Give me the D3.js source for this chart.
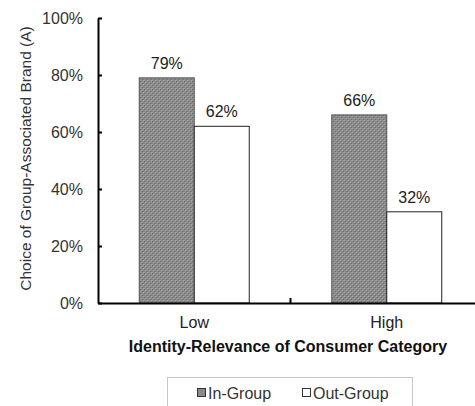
<!DOCTYPE html>
<html><head><meta charset="utf-8">
<script src="https://cdn.jsdelivr.net/npm/d3@7"></script>
<style>
html,body{margin:0;padding:0;background:#fff;}
svg{display:block;font-family:Arial,"Liberation Sans",sans-serif;}
</style></head>
<body>
<svg id="c" width="475" height="406"></svg>
<script>
const categories = ["Low", "High"];
const seriesNames = ["In-Group", "Out-Group"];
const inGroup = [79, 66];
const outGroup = [62, 32];
const yTicks = [0, 20, 40, 60, 80, 100];
const xTitle = "Identity-Relevance of Consumer Category";
const yTitle = "Choice of Group-Associated Brand (A)";

(function(){
const FONT = "Arial,'Liberation Sans',sans-serif";
const svg = d3.select("#c");
const defs = svg.append("defs");
const pat = defs.append("pattern").attr("id","chk").attr("patternUnits","userSpaceOnUse")
  .attr("width",4).attr("height",4);
pat.append("rect").attr("width",4).attr("height",4).attr("fill","#8a8a8a");
pat.append("rect").attr("x",0).attr("y",0).attr("width",1).attr("height",1).attr("fill","#b0b0b0");
pat.append("rect").attr("x",2).attr("y",2).attr("width",1).attr("height",1).attr("fill","#b0b0b0");
pat.append("rect").attr("x",1).attr("y",1).attr("width",1).attr("height",1).attr("fill","#666");
pat.append("rect").attr("x",3).attr("y",3).attr("width",1).attr("height",1).attr("fill","#666");

const pL = 98, pR = 483, pT = 18, pB = 303;
const x0 = d3.scaleBand().domain(categories).range([pL, pR]).paddingInner(3/7).paddingOuter(1.5/7);
const x1 = d3.scaleBand().domain(seriesNames).range([0, x0.bandwidth()]);
const y = d3.scaleLinear().domain([0, 100]).range([pB, pT]);

const data = categories.map((c,i)=>({cat:c, vals:[{s:seriesNames[0], v:inGroup[i]},{s:seriesNames[1], v:outGroup[i]}]}));

const g = svg.append("g").selectAll("g").data(data).join("g")
  .attr("transform", d=>`translate(${x0(d.cat)},0)`);
g.selectAll("rect").data(d=>d.vals).join("rect")
  .attr("x", d=>x1(d.s)).attr("y", d=>y(d.v))
  .attr("width", x1.bandwidth()).attr("height", d=>pB - y(d.v))
  .attr("fill", d=>d.s===seriesNames[0] ? "url(#chk)" : "#fff")
  .attr("stroke", d=>d.s===seriesNames[0] ? "#555" : "#222")
  .attr("stroke-width", 1);
g.selectAll("text").data(d=>d.vals).join("text")
  .attr("x", d=>x1(d.s)+x1.bandwidth()/2).attr("y", d=>y(d.v)-9)
  .attr("text-anchor","middle").attr("font-size",16).attr("fill","#222")
  .text(d=>d.v+"%");

// Y axis
const yAxis = d3.axisLeft(y).tickValues(yTicks).tickSizeInner(-4).tickSizeOuter(0).tickPadding(15)
  .tickFormat(d=>d+"%");
const ya = svg.append("g").attr("transform",`translate(${pL},0)`).call(yAxis);
ya.select(".domain").attr("stroke","#000").attr("stroke-width",2);
ya.selectAll(".tick line").attr("stroke","#000").attr("stroke-width",2);
ya.selectAll(".tick text").attr("font-size",16).attr("fill","#333").attr("font-family",FONT);

// X axis
const xAxis = d3.axisBottom(x0).tickSize(0).tickPadding(14);
const xa = svg.append("g").attr("transform",`translate(0,${pB})`).call(xAxis);
xa.select(".domain").attr("stroke","#000").attr("stroke-width",2);
xa.selectAll(".tick text").attr("font-size",16).attr("fill","#222").attr("font-family",FONT);
const mid = (x0(categories[0]) + x0.bandwidth() + x0(categories[1]))/2;
svg.append("line").attr("x1",mid).attr("x2",mid).attr("y1",pB).attr("y2",pB-5)
  .attr("stroke","#000").attr("stroke-width",2);

// Titles
svg.append("text").attr("x", 288).attr("y", 352).attr("text-anchor","middle")
  .attr("font-size",16).attr("font-weight","bold").attr("fill","#111").text(xTitle);
svg.append("text").attr("transform",`translate(31,158.5) rotate(-90)`)
  .attr("text-anchor","middle").attr("font-size",15.5).attr("fill","#333").text(yTitle);

// Legend
svg.append("rect").attr("x",167.5).attr("y",377.5).attr("width",245).attr("height",60)
  .attr("fill","none").attr("stroke","#c8c8c8").attr("stroke-width",1);
const leg = [{s:seriesNames[0], x:197},{s:seriesNames[1], x:302}];
const lg = svg.append("g").selectAll("g").data(leg).join("g").attr("transform",d=>`translate(${d.x},393)`);
lg.append("rect").attr("x",0.5).attr("y",-4.5).attr("width",8).attr("height",8)
  .attr("fill",(d,i)=>i===0?"#8a8a8a":"#fff").attr("stroke","#333").attr("stroke-width",1);
lg.append("text").attr("x",11).attr("y",5.5).attr("font-size",16).attr("fill","#333").text(d=>d.s);
})();
</script>
</body></html>
